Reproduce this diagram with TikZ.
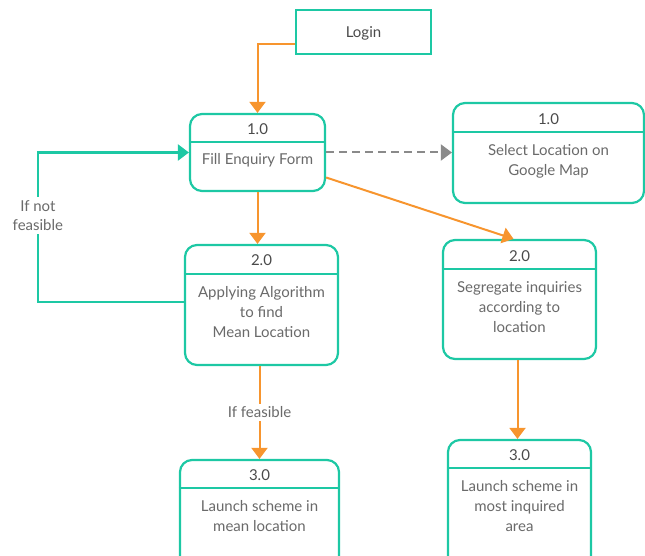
\documentclass[tikz,border=0pt]{standalone}
\usepackage{fontspec}
\setmainfont{Lato}
\usetikzlibrary{arrows.meta,positioning}
\definecolor{dfdteal}{HTML}{1DC8A4}
\definecolor{dfdorange}{HTML}{F7952E}
\definecolor{dfdgray}{HTML}{8A8A8A}
\definecolor{bodytext}{HTML}{6A6A6A}
\definecolor{titletext}{HTML}{4A4A4A}

\begin{document}
\begin{tikzpicture}[x=1pt,y=-1pt,
    proc/.style={draw=dfdteal,line width=2.2pt,rounded corners=12pt,fill=white},
    entity/.style={draw=dfdteal,line width=2.2pt,fill=white},
    divider/.style={draw=dfdteal,line width=2.2pt},
    proctitle/.style={text=titletext,font=\fontsize{15}{18}\selectfont},
    procbody/.style={text=bodytext,align=center,anchor=north,font=\fontsize{15}{20}\selectfont},
    flow/.style={draw=dfdorange,line width=2pt,-{Triangle[width=16pt,length=11pt]}},
    back/.style={draw=dfdteal,line width=2.4pt,-{Triangle[width=16pt,length=11pt]}},
    link/.style={draw=dfdgray,line width=2pt,dash pattern=on 8pt off 5pt,-{Triangle[width=16pt,length=11pt]}},
    flowlabel/.style={fill=white,text=bodytext,align=center,font=\fontsize{15}{19}\selectfont}]
    \useasboundingbox (0,0) rectangle (645,556);
    \clip (0,0) rectangle (645,556);
    % external entity
    \node[entity,minimum width=135,minimum height=44] at (363.5,32) (login) {};
    \node[text=titletext,font=\fontsize{15}{18}\selectfont] at ([yshift=-1.5pt]login) {Login};
    % processes
    \node[proc,minimum width=135,minimum height=77] at (257.5,152.5) (fill) {};
    \node[proc,minimum width=191,minimum height=100] at (548.5,153) (sel) {};
    \node[proc,minimum width=153,minimum height=120] at (261.5,305) (alg) {};
    \node[proc,minimum width=153,minimum height=119] at (519.5,299.5) (seg) {};
    \node[proc,minimum width=159,minimum height=115] at (259.5,517.5) (mean) {};
    \node[proc,minimum width=143,minimum height=135] at (519.5,507.5) (most) {};
    % dividers
    \draw[divider] (fill.west |- 0,142) -- (fill.east |- 0,142);
    \draw[divider] (sel.west |- 0,132) -- (sel.east |- 0,132);
    \draw[divider] (alg.west |- 0,274) -- (alg.east |- 0,274);
    \draw[divider] (seg.west |- 0,269) -- (seg.east |- 0,269);
    \draw[divider] (mean.west |- 0,488) -- (mean.east |- 0,488);
    \draw[divider] (most.west |- 0,468) -- (most.east |- 0,468);
    % titles and texts
    \node[proctitle] at (fill.north |- 0,129) {1.0};
    \node[procbody] at (fill.north |- 0,150) {Fill Enquiry Form};
    \node[proctitle] at (sel.north |- 0,119) {1.0};
    \node[procbody] at (sel.north |- 0,141) {Select Location on\\Google Map};
    \node[proctitle] at (alg.north |- 0,260) {2.0};
    \node[procbody] at (alg.north |- 0,283) {Applying Algorithm\\to find\\Mean Location};
    \node[proctitle] at (seg.north |- 0,256) {2.0};
    \node[procbody] at (seg.north |- 0,278) {Segregate inquiries\\according to\\location};
    \node[proctitle] at (mean.north |- 0,475) {3.0};
    \node[procbody] at (mean.north |- 0,497) {Launch scheme in\\mean location};
    \node[proctitle] at (most.north |- 0,455) {3.0};
    \node[procbody] at (most.north |- 0,477) {Launch scheme in\\most inquired\\area};
    % connectors
    \draw[flow] ([yshift=-12pt]login.west) -| (fill.north);
    \draw[link] (fill.east) -- (fill.east -| sel.west);
    \draw[flow] ([yshift=-25pt]fill.east) -- ([xshift=-6pt]seg.north);
    \draw[flow] (fill.south) -- (fill.south |- alg.north);
    \draw[back] ([yshift=3pt]alg.west) -- ++(-146,0) |- (fill.west)
        node[flowlabel,pos=0.29] {If not\\feasible};
    \draw[flow] (mean.north |- alg.south) -- (mean.north)
        node[flowlabel,midway] {If feasible};
    \draw[flow] ([xshift=-2pt]seg.south) -- ([xshift=-2pt]most.north);
\end{tikzpicture}
\end{document}
